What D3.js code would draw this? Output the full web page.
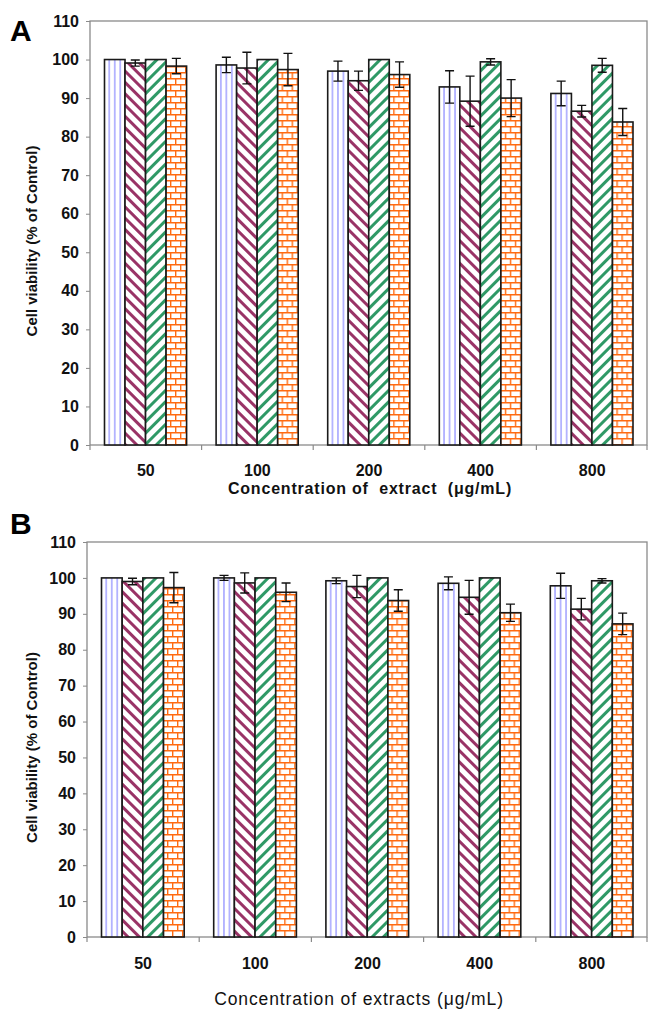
<!DOCTYPE html>
<html>
<head>
<meta charset="utf-8">
<script src="https://cdn.jsdelivr.net/npm/d3@7"></script>
<style>
  body { margin: 0; background: #fff; }
  svg { display: block; font-family: "Liberation Sans", Arial, sans-serif; }
</style>
</head>
<body>
<svg id="chart" width="648" height="1009"></svg>
<script>
// categories and series
var concentrations = ["50", "100", "200", "400", "800"];
var seriesKeys = ["s1", "s2", "s3", "s4"];
var yTicks = [0, 10, 20, 30, 40, 50, 60, 70, 80, 90, 100, 110];

// panel A values (% of control) and error bars, one row per concentration
var viabilityA = [
  [100, 99.1, 100, 98.3],
  [98.6, 97.8, 100, 97.4],
  [97.0, 94.5, 100, 96.1],
  [92.9, 89.2, 99.4, 90.0],
  [91.2, 86.6, 98.5, 83.8]
];
var errorA = [
  [0, 0.8, 0, 2.0],
  [2.0, 4.1, 0, 4.2],
  [2.6, 2.5, 0, 3.3],
  [4.2, 6.5, 0.8, 4.8],
  [3.2, 1.5, 1.8, 3.5]
];

// panel B
var viabilityB = [
  [100, 99.0, 100, 97.3],
  [100, 98.6, 100, 96.0],
  [99.2, 97.6, 100, 93.7],
  [98.5, 94.6, 100, 90.3],
  [97.8, 91.3, 99.2, 87.2]
];
var errorB = [
  [0, 0.9, 0, 4.2],
  [0.7, 2.8, 0, 2.6],
  [0.8, 3.1, 0, 3.0],
  [1.8, 4.7, 0, 2.4],
  [3.5, 3.0, 0.6, 3.0]
];

var svg = d3.select("#chart");
var defs = svg.append("defs");

// fill patterns
var p1 = defs.append("pattern").attr("id", "pat-s1")
  .attr("patternUnits", "userSpaceOnUse").attr("width", 5.5).attr("height", 10);
p1.append("rect").attr("width", 5.5).attr("height", 10).attr("fill", "#fff");
p1.append("line").attr("x1", 2.75).attr("x2", 2.75).attr("y1", 0).attr("y2", 10)
  .attr("stroke", "#9494ff").attr("stroke-width", 1.3);

// "\\\\" stripes
var p2 = defs.append("pattern").attr("id", "pat-s2")
  .attr("patternUnits", "userSpaceOnUse").attr("width", 8).attr("height", 8)
  .attr("patternTransform", "rotate(45)");
p2.append("rect").attr("width", 8).attr("height", 8).attr("fill", "#fff");
p2.append("rect").attr("width", 8).attr("height", 3).attr("fill", "#993366");

// "////" stripes
var p3 = defs.append("pattern").attr("id", "pat-s3")
  .attr("patternUnits", "userSpaceOnUse").attr("width", 8).attr("height", 8)
  .attr("patternTransform", "rotate(-45)");
p3.append("rect").attr("width", 8).attr("height", 8).attr("fill", "#fff");
p3.append("rect").attr("width", 8).attr("height", 3).attr("fill", "#2f9966");

var p4 = defs.append("pattern").attr("id", "pat-s4")
  .attr("patternUnits", "userSpaceOnUse").attr("width", 10).attr("height", 12);
p4.append("rect").attr("width", 10).attr("height", 12).attr("fill", "#fff");
p4.append("path")
  .attr("d", "M0,0.7H10M0,6.7H10M0.7,0V6.7M5.7,6.7V12")
  .attr("stroke", "#ff6a10").attr("stroke-width", 1.4).attr("fill", "none");

function drawPanel(o) {
  var g = svg.append("g");

  var x0 = d3.scaleBand().domain(concentrations).range([o.left, o.right]);
  var x1 = d3.scaleBand().domain(seriesKeys)
    .range([14.5, x0.bandwidth() - 15]);
  var y = d3.scaleLinear().domain([0, 110]).range([o.bottom, o.top]);

  // frame
  g.append("rect")
    .attr("x", o.left).attr("y", y(110))
    .attr("width", o.right - 1 - o.left).attr("height", y(0) - y(110))
    .attr("fill", "none").attr("stroke", "#8a8a8a").attr("stroke-width", 1.3);

  // y axis
  var yAxis = d3.axisLeft(y).tickValues(yTicks).tickSize(4).tickPadding(7);
  var ya = g.append("g").attr("transform", "translate(" + o.left + ",0)").call(yAxis);
  ya.select(".domain").remove();
  ya.selectAll(".tick line").attr("stroke", "#8a8a8a");
  ya.selectAll("text").attr("font-size", 16).attr("font-weight", "bold")
    .attr("fill", "#111").attr("font-family", "Liberation Sans, Arial, sans-serif");

  // x axis: ticks at category boundaries
  var bounds = concentrations.map(function(c) { return x0(c); }).concat([o.right - 1]);
  g.selectAll(".xtick").data(bounds).enter().append("line")
    .attr("x1", function(d) { return d; }).attr("x2", function(d) { return d; })
    .attr("y1", y(0)).attr("y2", y(0) + 5)
    .attr("stroke", "#8a8a8a").attr("stroke-width", 1.2);
  g.selectAll(".xlab").data(concentrations).enter().append("text")
    .attr("x", function(d) { return x0(d) + x0.bandwidth() / 2; })
    .attr("y", o.tickY)
    .attr("text-anchor", "middle")
    .attr("font-size", 16).attr("font-weight", "bold").attr("fill", "#111")
    .text(function(d) { return d; });

  // bars
  var groups = g.selectAll(".grp").data(o.values).enter().append("g")
    .attr("transform", function(d, i) { return "translate(" + x0(concentrations[i]) + ",0)"; });

  groups.each(function(row, i) {
    var gg = d3.select(this);
    gg.selectAll("rect").data(row).enter().append("rect")
      .attr("x", function(d, j) { return x1(seriesKeys[j]); })
      .attr("y", function(d) { return y(d); })
      .attr("width", x1.bandwidth())
      .attr("height", function(d) { return y(0) - y(d); })
      .attr("fill", function(d, j) { return "url(#pat-" + seriesKeys[j] + ")"; })
      .attr("stroke", "#1a1a1a").attr("stroke-width", 1.6);

    // error bars
    row.forEach(function(v, j) {
      var e = o.errors[i][j];
      if (!e) return;
      var cx = x1(seriesKeys[j]) + x1.bandwidth() / 2;
      gg.append("path")
        .attr("d", "M" + (cx - 4.5) + "," + y(v + e) + "H" + (cx + 4.5) +
                   "M" + cx + "," + y(v + e) + "V" + y(v - e) +
                   "M" + (cx - 4.5) + "," + y(v - e) + "H" + (cx + 4.5))
        .attr("stroke", "#111").attr("stroke-width", 1.4).attr("fill", "none");
    });
  });

  // titles
  g.append("text")
    .attr("transform", "translate(" + o.yTitleX + "," + ((y(0) + y(110)) / 2 + 8) + ") rotate(-90)")
    .attr("text-anchor", "middle")
    .attr("font-size", 15).attr("font-weight", "bold").attr("fill", "#111")
    .text("Cell viability (% of Control)");

  g.append("text")
    .attr("x", o.xTitleX).attr("y", o.xTitleY)
    .attr("text-anchor", "middle")
    .attr("font-size", o.xTitleSize).attr("font-weight", o.xTitleWeight).attr("fill", "#111")
    .attr("letter-spacing", o.xTitleSpacing)
    .attr("xml:space", "preserve")
    .text(o.xTitle);

  g.append("text")
    .attr("x", 10).attr("y", o.letterY)
    .attr("font-size", 30).attr("font-weight", "bold").attr("fill", "#000")
    .text(o.letter);
}

drawPanel({
  letter: "A", letterY: 41,
  left: 90, right: 648, top: 21, bottom: 445,
  tickY: 476, values: viabilityA, errors: errorA,
  yTitleX: 37,
  xTitle: "Concentration of  extract  (\u03bcg/mL)", xTitleX: 370, xTitleY: 494,
  xTitleSize: 16, xTitleWeight: "bold", xTitleSpacing: 0.8
});

drawPanel({
  letter: "B", letterY: 534,
  left: 87, right: 648, top: 542, bottom: 937,
  tickY: 969, values: viabilityB, errors: errorB,
  yTitleX: 37,
  xTitle: "Concentration of extracts (\u03bcg/mL)", xTitleX: 359, xTitleY: 1005,
  xTitleSize: 17.5, xTitleWeight: "normal", xTitleSpacing: 0.9
});
</script>
</body>
</html>
